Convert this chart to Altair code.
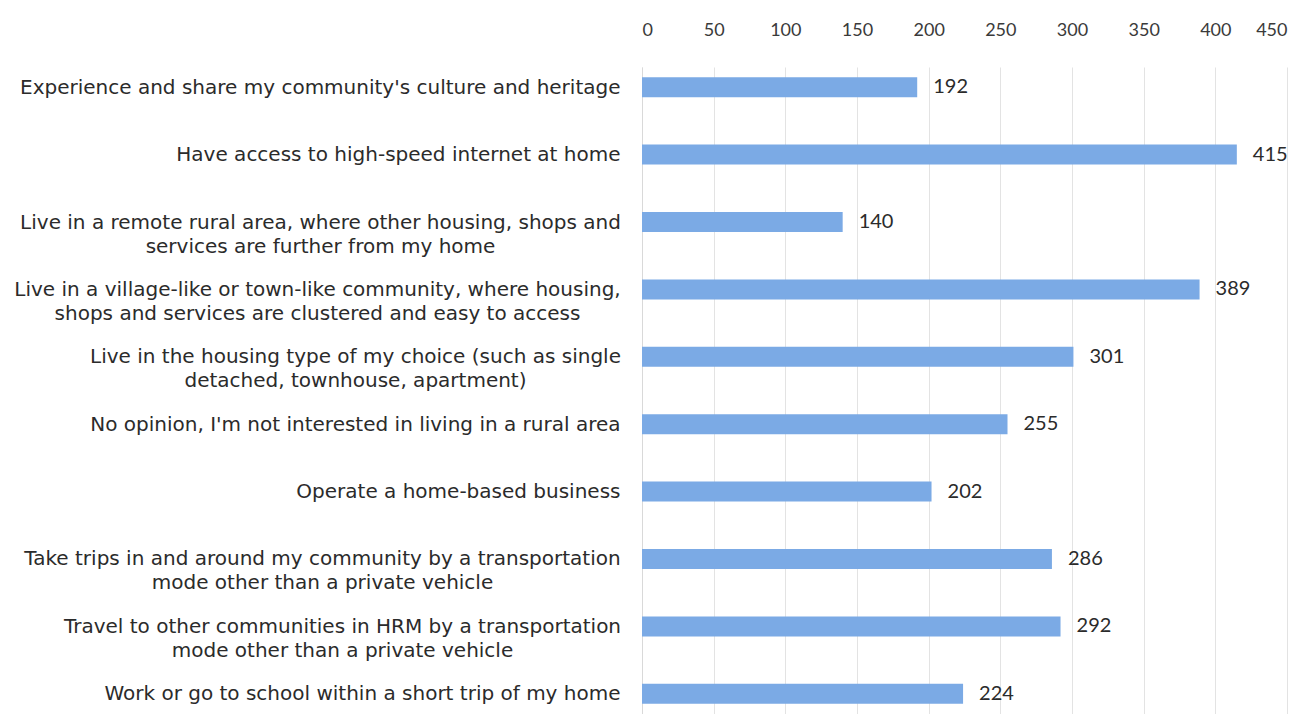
import altair as alt
import pandas as pd

categories = [
    "Experience and share my community's culture and heritage",
    "Have access to high-speed internet at home",
    "Live in a remote rural area, where other housing, shops and|services are further from my home",
    "Live in a village-like or town-like community, where housing,|shops and services are clustered and easy to access",
    "Live in the housing type of my choice (such as single|detached, townhouse, apartment)",
    "No opinion, I'm not interested in living in a rural area",
    "Operate a home-based business",
    "Take trips in and around my community by a transportation|mode other than a private vehicle",
    "Travel to other communities in HRM by a transportation|mode other than a private vehicle",
    "Work or go to school within a short trip of my home",
]
values = [192, 415, 140, 389, 301, 255, 202, 286, 292, 224]
ticks = [0, 50, 100, 150, 200, 250, 300, 350, 400, 450]

# label offsets for the two-line (centred) labels: gap + half the first line's width
two_line_pad = {
    categories[2]: 322,
    categories[3]: 325,
    categories[4]: 287,
    categories[7]: 320,
    categories[8]: 300,
}
pad_conditions = [
    {"test": "datum.value == '%s'" % k, "value": v} for k, v in two_line_pad.items()
]
multi_test = "indexof(datum.value, '|') >= 0"

df = pd.DataFrame({"cat": categories, "val": values})

yscale = alt.Scale(type="point", padding=0.3)
y = alt.Y("cat:N", sort=categories, title=None, scale=yscale,
          axis=alt.Axis(labelExpr="split(datum.label, '|')",
                        labelAlign={"condition": {"test": multi_test, "value": "center"}, "value": "right"},
                        labelPadding={"condition": pad_conditions, "value": 22},
                        labelFont="DejaVu Sans", labelFontSize=20, labelColor="#2b2b2b",
                        labelLineHeight=24, ticks=False, domain=True,
                        domainColor="#d9d9d9", labelLimit=900))
x = alt.X("val:Q", scale=alt.Scale(domain=[0, 450], nice=False), title=None,
          axis=alt.Axis(orient="top", values=ticks, ticks=False, domain=False,
                        labelFont="Lato", labelFontSize=18, labelColor="#3a3a3a",
                        labelPadding=28, gridColor="#e3e3e3", grid=True))

bars = alt.Chart(df).mark_bar(size=20, color="#7baae5").encode(x=x, y=y)
labels = alt.Chart(df).mark_text(align="left", dx=16, font="Lato", fontSize=20,
                                 color="#2b2b2b").encode(
    x="val:Q", y=alt.Y("cat:N", sort=categories, scale=yscale), text="val:Q")

chart = (bars + labels).properties(
    width=645, height=647,
    padding={"left": 5, "top": 13, "right": 5, "bottom": 0},
).configure_view(stroke=None)
chart.save("out.html", embed_options={"renderer": "svg", "actions": False})
